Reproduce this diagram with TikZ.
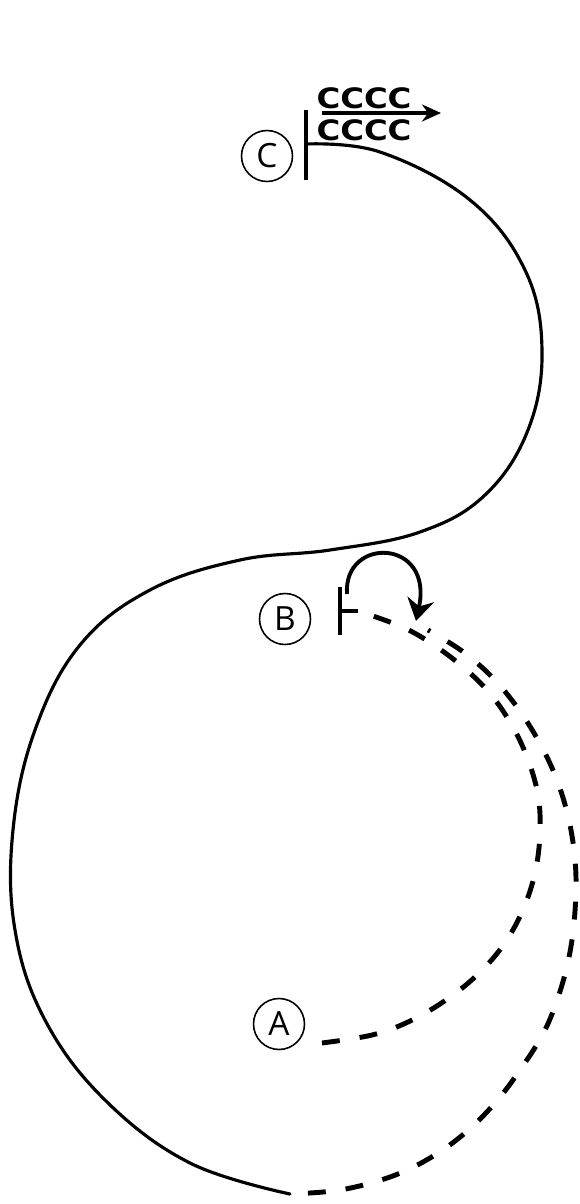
\documentclass[tikz,border=0pt]{standalone}
\usepackage{fontspec}
\setmainfont{Open Sans}
\newfontfamily\seqfont{DejaVu Sans}
\usetikzlibrary{arrows.meta}

\tikzset{
  site/.style={circle,draw,line width=0.9pt,minimum size=1.02cm,inner sep=0pt,font=\fontsize{19}{19}\selectfont},
  strand/.style={line width=1.8pt,line cap=round},
  newstrand/.style={line width=2.8pt,dash pattern=on 10.2pt off 11.4pt},
  endbar/.style={line width=2.2pt},
  repeats/.style={inner sep=0pt,font=\seqfont\bfseries\fontsize{16}{16}\selectfont}
}

\begin{document}
\begin{tikzpicture}[x=0.02cm,y=-0.02cm,>={Stealth[length=4.4mm,width=5.4mm]}]
\useasboundingbox (0,0) rectangle (579,1204);
% labelled sites
\node[site] (C) at (267,156) {C};
\node[site] (B) at (285,619) {B};
\node[site] (A) at (279,1024) {A};
% strand ends
\coordinate (cend) at (306,144);
\coordinate (bend) at (358,611);
\coordinate (aend) at (322,1043);
\coordinate (tail) at (290,1194);
\coordinate (tip) at (416,621);
\draw[endbar] (306,110) -- (306,180);
\draw[endbar] (340,587) -- (340,635);
\draw[endbar] (340,611) -- (bend);
% old strand
\draw[strand] plot[smooth,tension=0.65] coordinates {(cend) (380,152) (470,200) (525,270) (542,350) (528,430) (485,495) (420,532) (330,550) (240,560) (150,590) (80,645) (35,730) (13,830) (15,930) (45,1020) (105,1100) (190,1163) (tail)};
% new strands
\draw[newstrand,dash phase=11.4pt] plot[smooth,tension=0.6] coordinates {(tail) (340,1190) (390,1177) (430,1158) (465,1133) (495,1103) (520,1070) (545,1030) (562,985) (572,940) (576,890) (574,850) (567,812) (555,775) (538,740) (517,707) (492,677) (462,651) (428,630)};
\draw[newstrand] plot[smooth,tension=0.6] coordinates {(aend) (372,1035) (408,1022) (443,1002) (475,977) (502,947) (522,912) (535,873) (540,833) (538,795) (527,757) (510,722) (487,690) (457,662) (423,638) (395,624) (bend)};
% jump at B
\draw[->,line width=2.2pt] (347,594) .. controls (343,536) and (434,538) .. (tip);
% repeats at C
\node[repeats] (top) at (364,98) {\scalebox{1.15}[1]{CCCC}};
\node[repeats] (bot) at (364,130) {\scalebox{1.15}[1]{CCCC}};
\draw[->,line width=2.2pt,>={Stealth[length=3.8mm,width=3.4mm]}] (322,113) -- (441,113);
\end{tikzpicture}
\end{document}
